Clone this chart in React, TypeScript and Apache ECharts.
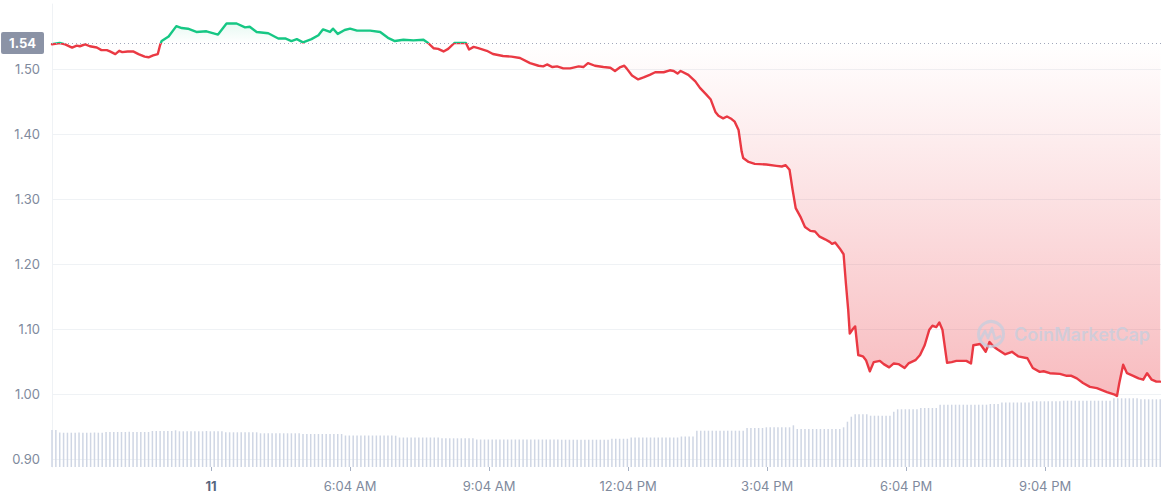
import React, { useEffect, useRef } from "react";
import * as echarts from "echarts";

// ---- data ----
const BASELINE = 1.54;
const X_MIN = -22; // minutes relative to 00:00 of day 11
const X_MAX = 1414;
const X_TICKS = [184, 364, 544, 724, 904, 1084, 1264];
const X_TICK_LABELS = ["11", "6:04 AM", "9:04 AM", "12:04 PM", "3:04 PM", "6:04 PM", "9:04 PM"];
const Y_MIN = 0.8877;
const Y_MAX = 1.6;
const Y_LABEL_LOW = 0.9;
const Y_LABEL_HIGH = 1.5;

const PRICE_MINUTES = [
  -22, -12, -5, 4, 10, 14, 21, 27, 36, 42, 49, 53, 60, 65, 69, 76, 83, 90, 98, 103, 109, 115, 118, 120,
  129, 139, 146, 154, 165, 178, 193, 204, 217, 228, 234, 243, 258, 271, 280, 288, 295, 303, 314, 323,
  329, 338, 342, 348, 357, 364, 373, 390, 403, 413, 422, 433, 446, 459, 465, 472, 478, 485, 491, 499,
  509, 514, 518, 524, 530, 541, 549, 562, 573, 584, 597, 608, 614, 619, 626, 632, 640, 649, 660, 666,
  672, 681, 692, 701, 707, 714, 719, 722, 729, 737, 744, 752, 759, 770, 778, 783, 788, 792, 802, 811,
  817, 825, 831, 837, 841, 847, 852, 858, 862, 867, 871, 873, 880, 888, 903, 916, 923, 928, 933, 937,
  941, 947, 953, 960, 966, 972, 979, 985, 988, 992, 998, 1003, 1006, 1009, 1011, 1015, 1018, 1022, 1028,
  1032, 1037, 1042, 1050, 1055, 1062, 1068, 1074, 1082, 1087, 1096, 1102, 1108, 1114, 1118, 1123, 1127,
  1131, 1137, 1143, 1149, 1162, 1168, 1171, 1180, 1187, 1192, 1197, 1203, 1212, 1221, 1229, 1241, 1248,
  1257, 1262, 1270, 1283, 1292, 1298, 1305, 1313, 1322, 1331, 1344, 1354, 1357, 1360, 1365, 1370, 1378,
  1385, 1391, 1396, 1402, 1408, 1413,
];

const PRICE_VALUES = [
  1.538, 1.54, 1.538, 1.533, 1.536, 1.535, 1.538, 1.535, 1.533, 1.529, 1.529, 1.527, 1.523, 1.528, 1.526,
  1.527, 1.527, 1.523, 1.519, 1.518, 1.521, 1.523, 1.537, 1.543,
  1.55, 1.566, 1.563, 1.562, 1.557, 1.558, 1.553, 1.57, 1.57, 1.564, 1.565, 1.557, 1.555, 1.547, 1.547,
  1.543, 1.546, 1.541, 1.546, 1.552,
  1.561, 1.557, 1.562, 1.554, 1.56, 1.562, 1.559, 1.559, 1.557, 1.548, 1.543, 1.545, 1.544, 1.545, 1.54,
  1.532, 1.531, 1.527, 1.531, 1.54,
  1.54, 1.54, 1.53, 1.534, 1.532, 1.528, 1.523, 1.52, 1.519, 1.517, 1.509, 1.505, 1.504, 1.507, 1.503,
  1.504, 1.501, 1.501, 1.504, 1.503,
  1.509, 1.505, 1.503, 1.502, 1.497, 1.503, 1.505, 1.501, 1.49, 1.484, 1.487, 1.491, 1.495, 1.495, 1.498,
  1.497, 1.493, 1.497, 1.491, 1.481,
  1.471, 1.461, 1.453, 1.434, 1.428, 1.424, 1.427, 1.423, 1.419, 1.406, 1.373, 1.363, 1.357, 1.354, 1.353,
  1.351, 1.35, 1.352, 1.345, 1.314,
  1.286, 1.273, 1.257, 1.251, 1.25, 1.242, 1.238, 1.234, 1.231, 1.233, 1.224, 1.215, 1.17, 1.129, 1.093,
  1.1, 1.104, 1.06, 1.058,
  1.052, 1.035, 1.049, 1.051, 1.046, 1.041, 1.047, 1.046, 1.04, 1.047, 1.052, 1.06, 1.075, 1.099, 1.105,
  1.103, 1.11,
  1.099, 1.048, 1.049, 1.051, 1.051, 1.047, 1.075, 1.077, 1.065, 1.08, 1.073, 1.068, 1.061, 1.065, 1.058,
  1.055, 1.04,
  1.034, 1.035, 1.032, 1.031, 1.028, 1.028, 1.024, 1.017, 1.011, 1.009, 1.003, 0.999, 0.997, 1.017, 1.045,
  1.032, 1.028,
  1.024, 1.022, 1.032, 1.022, 1.019, 1.019,
];

// 5-minute volume bars (millions), first bar at X_MIN
const VOLUME_START = -22;
const VOLUME_STEP = 5;
const VOLUME = [
  7.4, 7.4, 6.9, 6.86, 6.86, 6.86, 6.86, 6.9, 6.86, 6.86, 6.86, 6.9,
  6.86, 6.86, 7.0, 7.0, 7.0, 7.0, 7.0, 7.0, 7.05, 7.0, 7.0, 7.0,
  7.0, 7.0, 7.2, 7.2, 7.2, 7.2, 7.2, 7.2, 7.34, 7.14, 7.14, 7.14,
  7.14, 7.14, 7.14, 7.14, 7.2, 7.14, 7.14, 7.14, 7.14, 6.94, 6.94, 6.94,
  6.94, 6.94, 6.94, 6.94, 6.94, 6.94, 6.74, 6.74, 6.74, 6.74, 6.74, 6.74,
  6.74, 6.74, 6.74, 6.74, 6.74, 6.6, 6.6, 6.6, 6.6, 6.6, 6.6, 6.6,
  6.6, 6.6, 6.6, 6.6, 6.3, 6.3, 6.3, 6.3, 6.3, 6.3, 6.3, 6.3,
  6.3, 6.3, 6.3, 6.3, 6.3, 6.26, 5.9, 5.9, 5.9, 5.9, 5.9, 5.9,
  5.9, 5.9, 5.9, 5.9, 5.9, 5.74, 5.74, 5.74, 5.74, 5.74, 5.74, 5.74,
  5.74, 5.74, 5.5, 5.5, 5.5, 5.5, 5.5, 5.5, 5.5, 5.5, 5.5, 5.5,
  5.5, 5.5, 5.5, 5.5, 5.5, 5.5, 5.5, 5.5, 5.5, 5.5, 5.5, 5.5,
  5.46, 5.46, 5.46, 5.46, 5.46, 5.46, 5.46, 5.46, 5.46, 5.46, 5.46, 5.46,
  5.46, 5.65, 5.65, 5.65, 5.65, 5.65, 5.9, 5.9, 5.9, 5.9, 5.9, 5.9,
  5.9, 5.9, 5.9, 5.9, 5.9, 5.9, 5.9, 6.1, 6.1, 6.1, 6.1, 7.26,
  7.26, 7.26, 7.26, 7.26, 7.26, 7.26, 7.26, 7.26, 7.26, 7.26, 7.26, 7.26,
  7.8, 7.8, 7.8, 7.8, 7.8, 7.94, 7.94, 7.94, 7.94, 7.94, 7.94, 7.94,
  8.34, 7.6, 7.6, 7.6, 7.6, 7.6, 7.6, 7.6, 7.6, 7.6, 7.6, 7.6,
  7.6, 7.94, 9.06, 10.06, 10.54, 10.54, 10.54, 10.54, 10.26, 10.26, 10.26, 10.26,
  10.26, 10.26, 11.06, 11.54, 11.54, 11.54, 11.54, 11.54, 11.54, 11.8, 11.8, 11.8,
  11.8, 11.8, 12.46, 12.46, 12.46, 12.46, 12.46, 12.46, 12.46, 12.46, 12.46, 12.46,
  12.46, 12.46, 12.46, 12.6, 12.6, 12.6, 12.9, 12.9, 12.9, 12.9, 12.9, 12.9,
  12.9, 12.9, 13.14, 13.14, 13.14, 13.14, 13.14, 13.14, 13.14, 13.14, 13.26, 13.26,
  13.26, 13.26, 13.26, 13.26, 13.26, 13.26, 13.26, 13.26, 13.26, 13.26, 13.26, 13.74,
  13.74, 13.74, 13.74, 13.74, 13.74, 13.74, 13.54, 13.54, 13.54, 13.54, 13.54, 13.54,
];
const VOLUME_AXIS_MAX = 92.6;

// ---- layout / style ----
const W = 1161;
const H = 500;
const GRID_LEFT = 52;
const GRID_TOP = 4;
const GRID_BOTTOM = 33;
const GREEN = "#16c784";
const RED = "#ea3943";
const AXIS_TEXT = "#808a9d";
const GRID_LINE = "#eff2f5";
const FONT = "Inter, 'Noto Sans', sans-serif";

export default function App() {
  const ref = useRef<HTMLDivElement>(null);

  useEffect(() => {
    if (!ref.current) return;
    const chart = echarts.init(ref.current, undefined, { renderer: "svg" });

    const plotH = H - GRID_TOP - GRID_BOTTOM;
    const yPix = (v: number) => GRID_TOP + ((Y_MAX - v) / (Y_MAX - Y_MIN)) * plotH;
    const gTop = yPix(1.575);
    const gBot = yPix(1.0);
    const off = (yPix(BASELINE) - gTop) / (gBot - gTop);

    const areaGradient = new echarts.graphic.LinearGradient(
      0,
      gTop,
      0,
      gBot,
      [
        { offset: 0, color: "rgba(22,199,132,0.12)" },
        { offset: off, color: "rgba(22,199,132,0.0)" },
        { offset: off, color: "rgba(234,57,67,0.0)" },
        { offset: 1, color: "rgba(234,57,67,0.34)" },
      ],
      true
    );

    const priceData = PRICE_MINUTES.map((m, i) => [m, PRICE_VALUES[i]]);
    const volumeData = VOLUME.map((v, i) => [VOLUME_START + i * VOLUME_STEP, v]);

    const wm = "rgba(196,206,222,0.75)";

    const option: any = {
      animation: false,
      grid: { left: GRID_LEFT, right: 0, top: GRID_TOP, bottom: GRID_BOTTOM, containLabel: false },
      visualMap: {
        type: "piecewise",
        show: false,
        seriesIndex: 1,
        dimension: 1,
        pieces: [
          { gte: 0, lte: BASELINE, color: RED },
          { gt: BASELINE, lte: 10, color: GREEN },
        ],
        outOfRange: { color: RED },
      },
      xAxis: {
        type: "value",
        min: X_MIN,
        max: X_MAX,
        axisLine: { show: false, onZero: false },
        splitLine: { show: false },
        axisTick: {
          show: true,
          customValues: X_TICKS,
          length: 4,
          lineStyle: { color: "#a6b0c3" },
        },
        axisLabel: {
          customValues: X_TICKS,
          margin: 12,
          color: AXIS_TEXT,
          fontSize: 13,
          fontFamily: FONT,
          formatter: (v: number) => {
            const i = X_TICKS.findIndex((t) => Math.abs(t - v) < 0.5);
            if (i < 0) return "";
            return i === 0 ? `{b|${X_TICK_LABELS[i]}}` : X_TICK_LABELS[i];
          },
          rich: {
            b: { fontWeight: "bold", color: "#58667e", fontSize: 13, fontFamily: FONT },
          },
        },
      },
      yAxis: [
        {
          type: "value",
          min: Y_MIN,
          max: Y_MAX,
          minInterval: 0.1,
          maxInterval: 0.1,
          axisLine: { show: true, onZero: false, lineStyle: { color: GRID_LINE } },
          axisTick: { show: false },
          splitLine: {
            show: true,
            showMinLine: false,
            showMaxLine: false,
            lineStyle: { color: GRID_LINE },
          },
          axisLabel: {
            margin: 12,
            color: AXIS_TEXT,
            fontSize: 13,
            fontFamily: FONT,
            formatter: (v: number) => {
              const r = Math.round(v * 10) / 10;
              if (Math.abs(r - v) > 1e-6) return "";
              if (r < Y_LABEL_LOW - 1e-6 || r > Y_LABEL_HIGH + 1e-6) return "";
              return r.toFixed(2);
            },
          },
        },
        {
          type: "value",
          min: 0,
          max: VOLUME_AXIS_MAX,
          show: false,
          splitLine: { show: false },
        },
      ],
      series: [
        {
          type: "bar",
          name: "Volume",
          xAxisIndex: 0,
          yAxisIndex: 1,
          data: volumeData,
          barWidth: 1.5,
          itemStyle: { color: "#cfd6e4" },
          silent: true,
          z: 1,
        },
        {
          type: "line",
          name: "Price",
          xAxisIndex: 0,
          yAxisIndex: 0,
          data: priceData,
          showSymbol: false,
          symbol: "none",
          lineStyle: { width: 2.4, join: "round", cap: "round" },
          areaStyle: { origin: BASELINE, color: areaGradient, opacity: 1 },
          z: 3,
          markLine: {
            silent: true,
            symbol: "none",
            lineStyle: { type: [1, 3], color: "#a1a7bb", width: 1 },
            label: {
              show: true,
              position: "start",
              distance: 8,
              formatter: BASELINE.toFixed(2),
              color: "#ffffff",
              fontWeight: "bold",
              fontSize: 13,
              fontFamily: FONT,
              backgroundColor: "#8b93a6",
              padding: [5, 8, 4, 8],
              borderRadius: 2,
            },
            data: [{ yAxis: BASELINE }],
          },
        },
      ],
      graphic: [
        {
          type: "circle",
          shape: { cx: 991, cy: 334, r: 12.5 },
          style: { fill: "none", stroke: wm, lineWidth: 3 },
          z: 20,
          silent: true,
        },
        {
          type: "polyline",
          shape: {
            points: [
              [980, 340],
              [985, 331],
              [988, 338],
              [992, 328],
              [995, 339],
              [1001, 336],
            ],
          },
          style: { fill: "none", stroke: wm, lineWidth: 2.6, lineJoin: "round" },
          z: 20,
          silent: true,
        },
        {
          type: "text",
          x: 1014,
          y: 334,
          style: {
            text: "CoinMarketCap",
            fill: wm,
            font: `600 18px ${FONT}`,
            verticalAlign: "middle",
            align: "left",
          },
          z: 20,
          silent: true,
        },
      ],
    };

    chart.setOption(option);
    return () => chart.dispose();
  }, []);

  return (
    <div
      ref={ref}
      style={{ position: "fixed", left: 0, top: 0, width: W, height: H, background: "#ffffff" }}
    />
  );
}
